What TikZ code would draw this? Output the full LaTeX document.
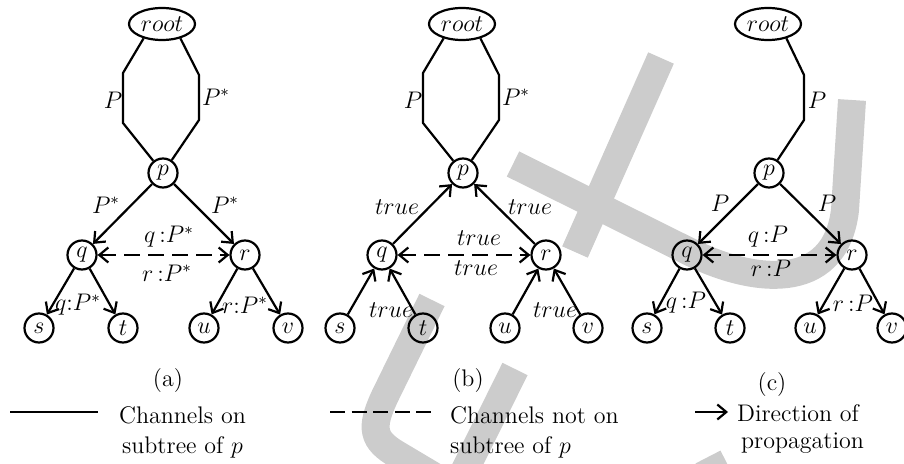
\documentclass[tikz,border=0pt]{standalone}
\usetikzlibrary{arrows.meta,shapes.geometric}
\begin{document}
\begin{tikzpicture}[x=0.5pt,y=-0.5pt, line width=1.1pt,
  every node/.style={font=\fontsize{12}{15}\selectfont},
  vert/.style={circle,draw,minimum size=14.5pt,inner sep=0pt},
  rootnode/.style={ellipse,draw,minimum width=33pt,minimum height=16pt,inner sep=0pt},
  arr/.style={-{Straight Barb[length=4.5pt,width=7.5pt]}},
  darr/.style={{Straight Barb[length=4.5pt,width=7.5pt]}-{Straight Barb[length=4.5pt,width=7.5pt]},dash pattern=on 8pt off 4pt},
  lbl/.style={inner sep=0pt},
  legtext/.style={anchor=base west,inner sep=0pt},
  wm/.style={line width=14pt,draw=black!20}
]
\useasboundingbox (0,0) rectangle (904,464);
% watermark
\begin{scope}
\clip (0,0) rectangle (904,464);
\draw[wm] (661,58) -- (575,252);
\draw[wm] (513,164) -- (690,252) .. controls (750,282) and (835,295) .. (845,210) -- (852,100);
\draw[wm] (432,300) -- (385,396) .. controls (370,428) and (372,440) .. (398,455) -- (440,480);
\draw[wm] (515,369) -- (460,480);
\draw[wm] (708,457) -- (725,490);
\end{scope}

% ---------- panel (a)
\node[rootnode] (a-root) at (162,24) {$root$};
\node[vert] (a-p) at (163,173) {$p$};
\node[vert] (a-q) at (82,255) {$q$};
\node[vert] (a-r) at (245,255) {$r$};
\node[vert] (a-s) at (39,328) {$s$};
\node[vert] (a-t) at (123,328) {$t$};
\node[vert] (a-u) at (204,328) {$u$};
\node[vert] (a-v) at (288,328) {$v$};
\coordinate (a-l1) at (123,73); \coordinate (a-l2) at (123,123);
\coordinate (a-r1) at (199,75); \coordinate (a-r2) at (199,120);
\draw (a-root.218) -- (a-l1) -- (a-l2) -- (a-p);
\draw (a-root.322) -- (a-r1) -- (a-r2) -- (a-p);
\draw[arr] (a-p) -- (a-q);
\draw[arr] (a-p) -- (a-r);
\draw[arr] (a-q) -- (a-s);
\draw[arr] (a-q) -- (a-t);
\draw[arr] (a-r) -- (a-u);
\draw[arr] (a-r) -- (a-v);
\draw[darr] (a-q) -- (a-r);
\node[lbl] (a-L1) at (113,100) {$P$};
\node[lbl] (a-L2) at (216,97) {$P^*$};
\node[lbl] (a-L3) at (106,205) {$P^*$};
\node[lbl] (a-L4) at (225,205) {$P^*$};
\node[lbl] (a-L5) at (169,237) {$q\,{:}P^*$};
\node[lbl] (a-L6) at (167,273) {$r\,{:}P^*$};
\node[lbl] (a-L7) at (78,305) {$q{:}P^*$};
\node[lbl] (a-L8) at (245,305) {$r{:}P^*$};
\node (a-cap) at (168,381) {(a)};

% ---------- panel (b)
\node[rootnode] (b-root) at (462,24) {$root$};
\node[vert] (b-p) at (463,173) {$p$};
\node[vert] (b-q) at (382,255) {$q$};
\node[vert] (b-r) at (546,255) {$r$};
\node[vert] (b-s) at (340,328) {$s$};
\node[vert] (b-t) at (423,328) {$t$};
\node[vert] (b-u) at (505,328) {$u$};
\node[vert] (b-v) at (588,328) {$v$};
\coordinate (b-l1) at (423,73); \coordinate (b-l2) at (423,123);
\coordinate (b-r1) at (499,75); \coordinate (b-r2) at (499,120);
\draw (b-root.218) -- (b-l1) -- (b-l2) -- (b-p);
\draw (b-root.322) -- (b-r1) -- (b-r2) -- (b-p);
\draw[arr] (b-q) -- (b-p);
\draw[arr] (b-r) -- (b-p);
\draw[arr] (b-s) -- (b-q);
\draw[arr] (b-t) -- (b-q);
\draw[arr] (b-u) -- (b-r);
\draw[arr] (b-v) -- (b-r);
\draw[darr] (b-q) -- (b-r);
\node[lbl] (b-L1) at (413,100) {$P$};
\node[lbl] (b-L2) at (516,97) {$P^*$};
\node[lbl] (b-L3) at (397,207) {$true$};
\node[lbl] (b-L4) at (530,207) {$true$};
\node[lbl] (b-L5) at (479,238) {$true$};
\node[lbl] (b-L6) at (476,268) {$true$};
\node[lbl] (b-L7) at (391,310) {$true$};
\node[lbl] (b-L8) at (555,310) {$true$};
\node (b-cap) at (468,381) {(b)};

% ---------- panel (c)
\node[rootnode] (c-root) at (768,24) {$root$};
\node[vert] (c-p) at (769,173) {$p$};
\node[vert] (c-q) at (687,255) {$q$};
\node[vert] (c-r) at (852,255) {$r$};
\node[vert] (c-s) at (647,328) {$s$};
\node[vert] (c-t) at (730,328) {$t$};
\node[vert] (c-u) at (810,328) {$u$};
\node[vert] (c-v) at (892,328) {$v$};
\coordinate (c-r1) at (804,75); \coordinate (c-r2) at (804,120);
\draw (c-root.322) -- (c-r1) -- (c-r2) -- (c-p);
\draw[arr] (c-p) -- (c-q);
\draw[arr] (c-p) -- (c-r);
\draw[arr] (c-q) -- (c-s);
\draw[arr] (c-q) -- (c-t);
\draw[arr] (c-r) -- (c-u);
\draw[arr] (c-r) -- (c-v);
\draw[darr] (c-q) -- (c-r);
\node[lbl] (c-L1) at (817,100) {$P$};
\node[lbl] (c-L3) at (720,203) {$P$};
\node[lbl] (c-L4) at (827,203) {$P$};
\node[lbl] (c-L5) at (768,237) {$q\,{:}P$};
\node[lbl] (c-L6) at (771,268) {$r\,{:}P$};
\node[lbl] (c-L7) at (686,303) {$q\,{:}P$};
\node[lbl] (c-L8) at (853,303) {$r\,{:}P$};
\node (c-cap) at (772,385) {(c)};

% ---------- legend
\coordinate (g-s1) at (10,412); \coordinate (g-s2) at (98,412);
\draw (g-s1) -- (g-s2);
\node[legtext] (g-a1) at (118,423) {Channels on};
\node[legtext] (g-a2) at (121,453) {subtree of $p$};
\coordinate (g-d1) at (330,412); \coordinate (g-d2) at (435,412);
\draw[dash pattern=on 7.5pt off 3.3pt] (g-d1) -- (g-d2);
\node[legtext] (g-b1) at (449,423) {Channels not on};
\node[legtext] (g-b2) at (449,453) {subtree of $p$};
\coordinate (g-e1) at (695,412); \coordinate (g-e2) at (728,412);
\draw[arr] (g-e1) -- (g-e2);
\node[legtext] (g-c1) at (736,422) {Direction of};
\node[legtext] (g-c2) at (740,448) {propagation};
\end{tikzpicture}
\end{document}
